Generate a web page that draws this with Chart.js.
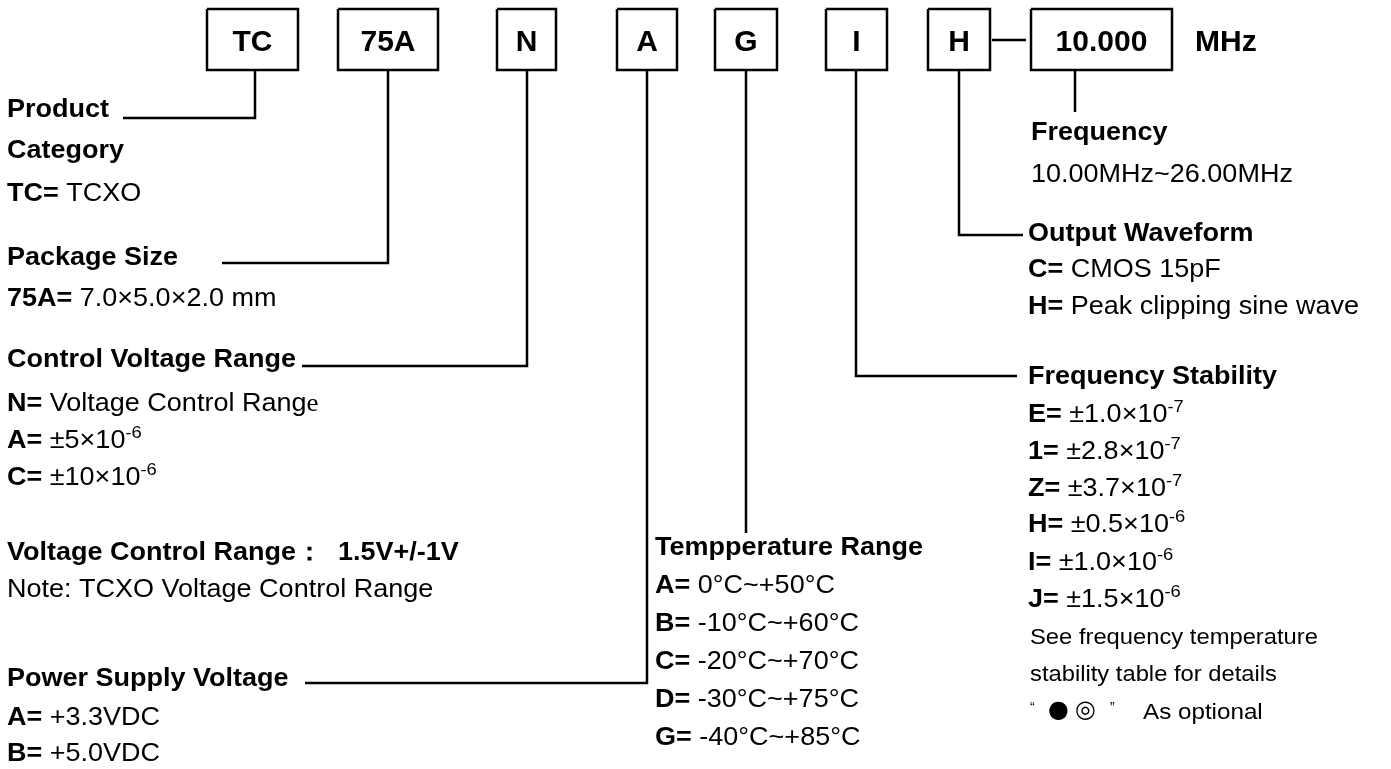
<!DOCTYPE html>
<html>
<head>
<meta charset="utf-8">
<script src="https://cdn.jsdelivr.net/npm/chart.js@4.4.0/dist/chart.umd.min.js"></script>
<style>
  html, body { margin: 0; padding: 0; background: #fff; }
  #wrap { width: 1391px; height: 769px; }
</style>
</head>
<body>
<div id="wrap"><canvas id="partChart"></canvas></div>
<script>
// part number fields, left to right
const codes = ['TC', '75A', 'N', 'A', 'G', 'I', 'H', '10.000'];
const unitLabel = 'MHz';

// descriptions (** = bold, ^{..} = superscript, ${..} = serif glyph)
const categoryLines = ['**Product**', '**Category**', '**TC=** TCXO'];
const packageLines = ['**Package Size**', '**75A=** 7.0×5.0×2.0 mm'];
const controlLines = ['**Control Voltage Range**', '**N=** Voltage Control Rang${e}', '**A=** ±5×10^{-6}', '**C=** ±10×10^{-6}'];
const noteLines = ['**Voltage Control Range：  1.5V+/-1V**', 'Note: TCXO Voltage Control Range'];
const supplyLines = ['**Power Supply Voltage**', '**A=** +3.3VDC', '**B=** +5.0VDC'];
const tempLines = ['**Tempperature Range**', '**A=** 0°C~+50°C', '**B=** -10°C~+60°C', '**C=** -20°C~+70°C', '**D=** -30°C~+75°C', '**G=** -40°C~+85°C'];
const freqLines = ['**Frequency**', '10.00MHz~26.00MHz'];
const waveLines = ['**Output Waveform**', '**C=** CMOS 15pF', '**H=** Peak clipping sine wave'];
const stabilityLines = ['**Frequency Stability**', '**E=** ±1.0×10^{-7}', '**1=** ±2.8×10^{-7}', '**Z=** ±3.7×10^{-7}', '**H=** ±0.5×10^{-6}', '**I=** ±1.0×10^{-6}', '**J=** ±1.5×10^{-6}'];
const stabilityNotes = ['See frequency temperature', 'stability table for details'];
const optionalNote = 'As optional';

// layout (diagram units = pixels of the 1391x769 sheet)
const boxLeft  = [207, 338, 497, 617, 715, 826, 928, 1031];
const boxRight = [298, 438, 556, 677, 777, 887, 990, 1172];
const boxTop = 9, boxBottom = 70;
const leaders = [
  [[255, 70], [255, 118], [123, 118]],
  [[388, 70], [388, 263], [222, 263]],
  [[527, 70], [527, 366], [302, 366]],
  [[647, 70], [647, 683], [305, 683]],
  [[746, 70], [746, 533]],
  [[856, 70], [856, 376], [1017, 376]],
  [[959, 70], [959, 235], [1023, 235]],
  [[1075, 70], [1075, 112]],
  [[992, 40], [1026, 40]]
];

const black = '#000';
const boxDatasets = codes.map((c, i) => ({
  label: c,
  data: [
    {x: boxLeft[i], y: boxTop}, {x: boxRight[i], y: boxTop},
    {x: boxRight[i], y: boxBottom}, {x: boxLeft[i], y: boxBottom},
    {x: boxLeft[i], y: boxTop}
  ],
  showLine: true, borderColor: black, borderWidth: 2.5, pointRadius: 0, tension: 0, fill: false
}));
const leaderDatasets = leaders.map((pts, i) => ({
  label: 'leader' + i,
  data: pts.map(p => ({x: p[0], y: p[1]})),
  showLine: true, borderColor: black, borderWidth: 2.5, pointRadius: 0, tension: 0, fill: false
}));

// text blocks: x and the baseline of each line
const textBlocks = [
  {x: 7, ys: [117, 158, 201], lines: categoryLines, size: 25},
  {x: 7, ys: [265, 306], lines: packageLines, size: 25},
  {x: 7, ys: [367, 411, 448, 485], lines: controlLines, size: 25},
  {x: 7, ys: [560, 597], lines: noteLines, size: 25},
  {x: 7, ys: [686, 725, 761], lines: supplyLines, size: 25},
  {x: 655, ys: [555, 593, 631, 669, 707, 745], lines: tempLines, size: 25},
  {x: 1031, ys: [140, 182], lines: freqLines, size: 25},
  {x: 1028, ys: [241, 277, 314], lines: waveLines, size: 25},
  {x: 1028, ys: [384, 422, 459, 496, 532, 570, 607], lines: stabilityLines, size: 25},
  {x: 1030, ys: [644, 681], lines: stabilityNotes, size: 22}
];

function parseMarkup(str) {
  const segs = [];
  let bold = false;
  str.split(/(\*\*|\^\{[^}]*\}|\$\{[^}]*\})/).forEach(tok => {
    if (tok === '**') { bold = !bold; return; }
    if (!tok) return;
    if (tok.startsWith('^{')) segs.push({t: tok.slice(2, -1), b: bold, sup: true});
    else if (tok.startsWith('${')) segs.push({t: tok.slice(2, -1), b: bold, serif: true});
    else segs.push({t: tok, b: bold});
  });
  return segs;
}

function drawRich(ctx, px, py, str, size, stretch) {
  ctx.save();
  ctx.translate(px, py);
  ctx.scale(stretch, 1);
  let cx = 0;
  parseMarkup(str).forEach(s => {
    const fs = s.sup ? Math.round(size * 0.66) : size;
    const fam = s.serif ? '"Liberation Serif", serif' : '"Liberation Sans", Arial, sans-serif';
    ctx.font = (s.b ? 'bold ' : '') + fs + 'px ' + fam;
    ctx.fillText(s.t, cx, s.sup ? -size * 0.42 : 0);
    cx += ctx.measureText(s.t).width;
  });
  ctx.restore();
}

const textPlugin = {
  id: 'partText',
  afterDatasetsDraw(chart) {
    const ctx = chart.ctx;
    const xs = chart.scales.x, ys = chart.scales.y;
    ctx.save();
    ctx.fillStyle = black;
    ctx.textBaseline = 'alphabetic';

    // box labels
    ctx.textAlign = 'center';
    ctx.font = 'bold 30px "Liberation Sans", Arial, sans-serif';
    codes.forEach((c, i) => {
      const cx = xs.getPixelForValue((boxLeft[i] + boxRight[i]) / 2);
      ctx.fillText(c, cx, ys.getPixelForValue(51));
    });
    ctx.textAlign = 'left';
    ctx.fillText(unitLabel, xs.getPixelForValue(1195), ys.getPixelForValue(51));

    // descriptions
    textBlocks.forEach(b => {
      b.lines.forEach((ln, j) => {
        drawRich(ctx, xs.getPixelForValue(b.x), ys.getPixelForValue(b.ys[j]), ln, b.size, 1.08);
      });
    });

    // optional marks line
    const by = ys.getPixelForValue(719);
    ctx.font = '14px "Liberation Sans", Arial, sans-serif';
    ctx.fillText('“', xs.getPixelForValue(1030), ys.getPixelForValue(712));
    ctx.fillText('”', xs.getPixelForValue(1110), ys.getPixelForValue(712));
    ctx.font = '24px "DejaVu Sans", sans-serif';
    ctx.fillText('●', xs.getPixelForValue(1048), by - 2);
    ctx.fillText('◎', xs.getPixelForValue(1075), by - 2);
    ctx.font = '22px "Liberation Sans", Arial, sans-serif';
    ctx.save();
    ctx.translate(xs.getPixelForValue(1143), by);
    ctx.scale(1.1, 1);
    ctx.fillText(optionalNote, 0, 0);
    ctx.restore();

    ctx.restore();
  }
};

new Chart(document.getElementById('partChart'), {
  type: 'scatter',
  data: { datasets: boxDatasets.concat(leaderDatasets) },
  options: {
    responsive: true,
    maintainAspectRatio: false,
    animation: false,
    layout: { padding: 0 },
    plugins: { legend: { display: false }, tooltip: { enabled: false } },
    scales: {
      x: { type: 'linear', min: 0, max: 1391, display: false },
      y: { type: 'linear', min: 0, max: 769, reverse: true, display: false }
    }
  },
  plugins: [textPlugin]
});
</script>
</body>
</html>
